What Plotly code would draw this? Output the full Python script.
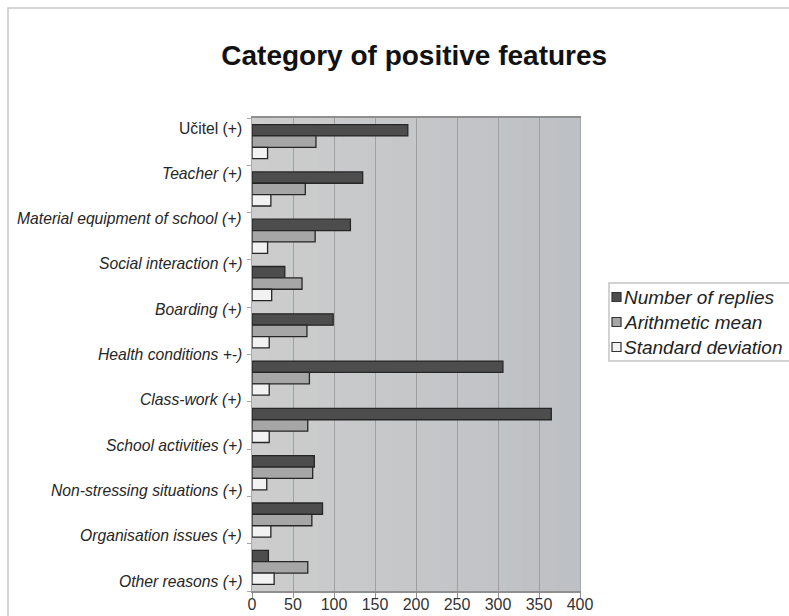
import plotly.graph_objects as go

# ---- data ----
category_labels = ["Učitel (+)", "Teacher (+)", "Material equipment of school (+)",
                   "Social interaction (+)", "Boarding (+)", "Health conditions +-)",
                   "Class-work (+)", "School activities (+)",
                   "Non-stressing situations (+)", "Organisation issues (+)",
                   "Other reasons (+)"]
italic_label = [False, True, True, True, True, True, True, True, True, True, True]
band_index = [0, 1, 2, 3, 4, 5, 6, 7, 8, 9]
replies = [190, 135, 120, 40, 99, 306, 365, 76, 86, 20]
means = [78, 65, 77, 61, 67, 70, 68, 74, 73, 68]
stdev = [19, 23, 19, 24, 21, 21, 21, 18, 23, 27]
series_names = ["Number of replies", "Arithmetic mean", "Standard deviation"]
x_ticks = [0, 50, 100, 150, 200, 250, 300, 350, 400]

colors = ["#4d4d4d", "#a6a6a6", "#f2f2f2"]
font_family = "Liberation Sans, Arial, sans-serif"

# plot-area geometry in pixels (used to place decorative frame / legend)
W, H = 789, 616
L, R, T, B = 252, 209, 118, 25
PW, PH = W - L - R, H - T - B


def px_x(px):
    return (px - L) / PW


def px_y(py):
    return (H - B - py) / PH


fig = go.Figure()
for name, vals, col in zip(series_names, [replies, means, stdev], colors):
    fig.add_trace(go.Bar(
        y=band_index, x=vals, orientation="h", name=name,
        marker=dict(color=col, line=dict(color="#262626", width=1.3)),
        showlegend=False,
    ))

n_lab = len(category_labels)
tick_pos = [i - 0.5 for i in range(n_lab)]

fig.update_layout(
    width=W, height=H,
    margin=dict(l=L, r=R, t=T, b=B, autoexpand=False),
    paper_bgcolor="white",
    plot_bgcolor="#c6c7c9",
    barmode="group", bargap=0.28, bargroupgap=0.0,
    font=dict(family=font_family, size=16, color="#262626"),
    title=dict(text="<b>Category of positive features</b>", x=0.525, xanchor="center",
               y=1 - 55 / H, yanchor="middle",
               font=dict(family=font_family, size=28, color="#111111")),
    showlegend=False,
)

fig.update_xaxes(
    range=[0, 400], tickvals=x_ticks, ticktext=[str(v) for v in x_ticks],
    showgrid=True, gridcolor="#a0a0a0", gridwidth=1,
    showline=True, linecolor="#8f8f8f", linewidth=1.5, mirror=True,
    ticks="outside", ticklen=5, tickcolor="#8f8f8f", automargin=False,
    ticklabelstandoff=-7,
    tickfont=dict(size=16, color="#333333"), zeroline=False, fixedrange=True,
)
fig.update_yaxes(
    range=[9.5, -0.5], tickvals=tick_pos, ticktext=[""] * n_lab,
    showgrid=False, showline=True, linecolor="#a8a8a8", linewidth=1, mirror=True,
    ticks="outside", ticklen=4, tickcolor="#a8a8a8", automargin=False,
    zeroline=False, fixedrange=True,
)

# category labels: evenly spread, slightly inset from the band boundaries (as in the original)
band_px = PH / 10
first_px, last_px = T + 10, H - B - 10
step_px = (last_px - first_px) / (n_lab - 1)
for i, (lab, it) in enumerate(zip(category_labels, italic_label)):
    ypx = first_px + i * step_px
    fig.add_annotation(xref="paper", yref="y", x=px_x(244),
                       y=-0.5 + (ypx - T) / band_px,
                       xanchor="right", yanchor="middle", showarrow=False,
                       text=("<i>%s</i>" % lab) if it else lab,
                       font=dict(family=font_family, size=15.7, color="#262626"))

# soft left-to-right background gradient of the plot area (decorative)
n_strips = 40
c0, c1 = (205, 205, 205), (189, 192, 196)
for s in range(n_strips):
    f = s / (n_strips - 1)
    rgb = tuple(round(a + (b - a) * f) for a, b in zip(c0, c1))
    fig.add_shape(type="rect", xref="x domain", yref="y domain",
                  x0=s / n_strips, x1=(s + 1) / n_strips + 0.002, y0=0, y1=1,
                  line=dict(width=0), fillcolor="rgb(%d,%d,%d)" % rgb, layer="below")

# outer chart frame (decorative; only top and left edges fall inside the canvas)
fig.add_shape(type="rect", xref="paper", yref="paper",
              x0=px_x(8), x1=px_x(820), y0=px_y(660), y1=px_y(8),
              line=dict(color="#c8c8c8", width=1.5), layer="below")

# custom legend (box, swatches, texts)
fig.add_shape(type="rect", xref="paper", yref="paper",
              x0=px_x(609), x1=px_x(820), y0=px_y(361), y1=px_y(283),
              line=dict(color="#c4c4c4", width=1.5), fillcolor="white", layer="below")
for k, (name, col) in enumerate(zip(series_names, colors)):
    cy = 297 + 25 * k
    fig.add_shape(type="rect", xref="paper", yref="paper",
                  x0=px_x(612), x1=px_x(621), y0=px_y(cy + 4.5), y1=px_y(cy - 4.5),
                  line=dict(color="#333333", width=1.2), fillcolor=col)
    fig.add_annotation(xref="paper", yref="paper", x=px_x(622), y=px_y(cy),
                       xanchor="left", yanchor="middle", showarrow=False,
                       text="<i>" + name + "</i>",
                       font=dict(family=font_family, size=19, color="#222222"))

fig.write_html("out.html")
